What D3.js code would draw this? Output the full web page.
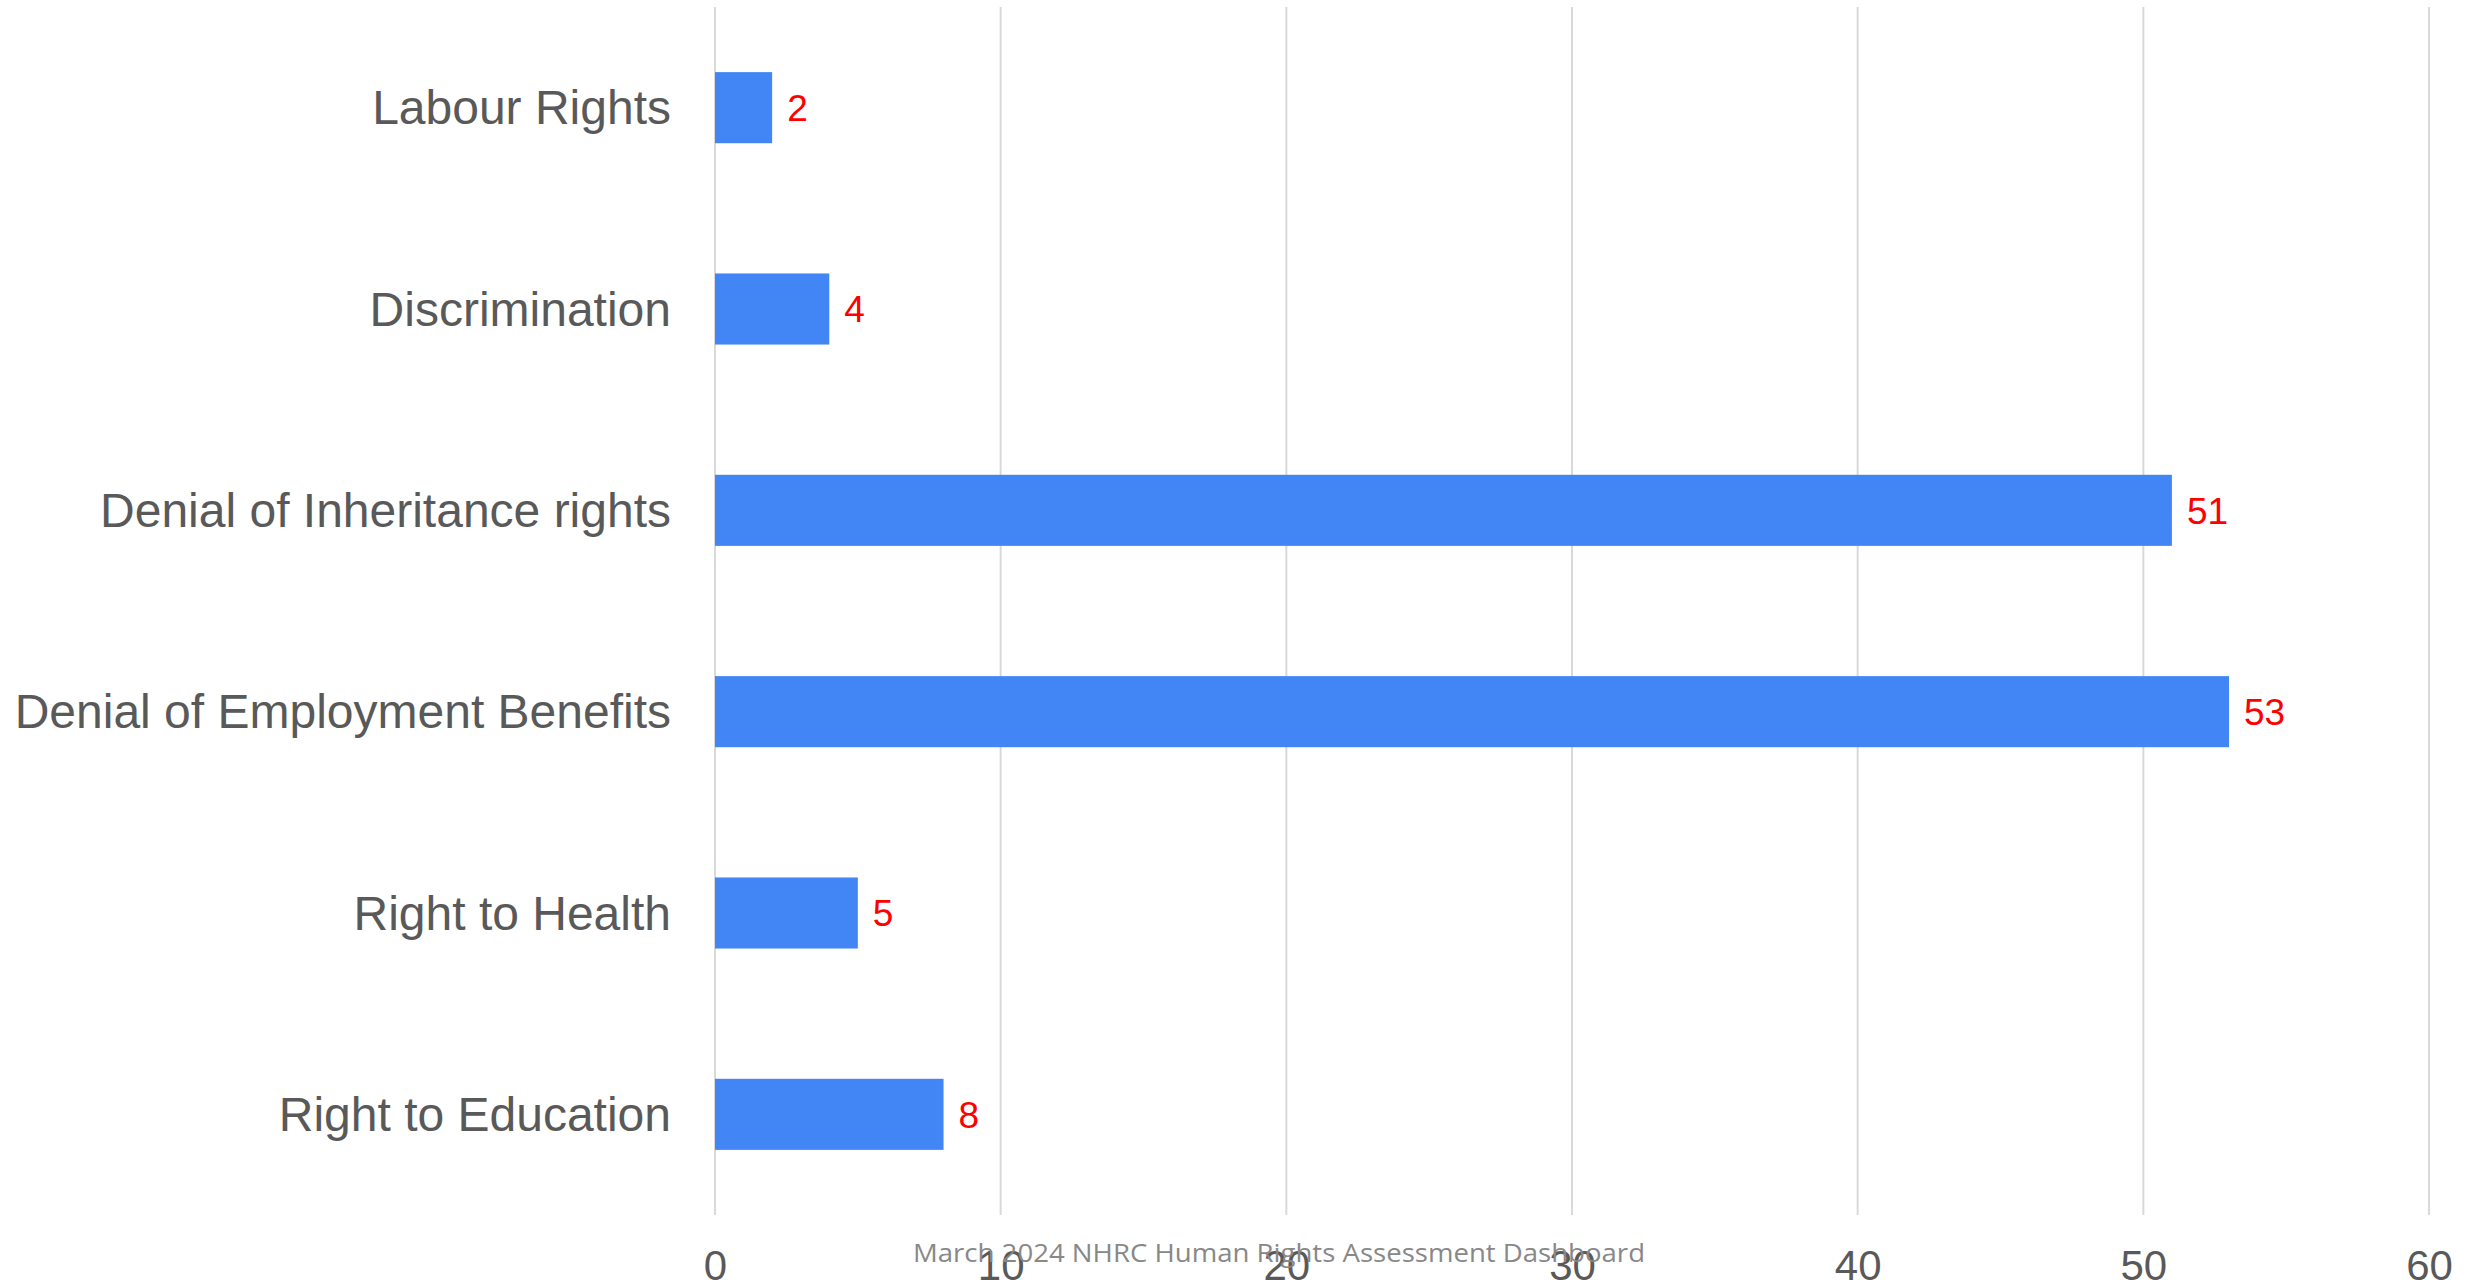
<!DOCTYPE html>
<html>
<head>
<meta charset="utf-8">
<script src="https://cdn.jsdelivr.net/npm/d3@7"></script>
<style>
  html, body { margin: 0; padding: 0; background: #ffffff; }
  svg { display: block; }
</style>
</head>
<body>
<script>
const categories = ["Labour Rights", "Discrimination", "Denial of Inheritance rights", "Denial of Employment Benefits", "Right to Health", "Right to Education"];
const values = [2, 4, 51, 53, 5, 8];
const tickValues = [0, 10, 20, 30, 40, 50, 60];
const footerText = "March 2024 NHRC Human Rights Assessment Dashboard";

const W = 2483, H = 1288;
const svg = d3.select("body").append("svg").attr("width", W).attr("height", H);

const x = d3.scaleLinear().domain([0, 60]).range([715, 2429]);
const y = d3.scaleBand().domain(categories).range([7, 1215]).paddingInner(0.647).paddingOuter(0.3235);

// gridlines
svg.append("g").selectAll("line").data(tickValues).join("line")
  .attr("x1", d => x(d)).attr("x2", d => x(d))
  .attr("y1", 7).attr("y2", 1215)
  .attr("stroke", "#d9d9d9").attr("stroke-width", 2);

// bars
svg.append("g").selectAll("rect").data(values).join("rect")
  .attr("x", x(0))
  .attr("y", (d, i) => y(categories[i]))
  .attr("width", d => x(d) - x(0))
  .attr("height", y.bandwidth())
  .attr("fill", "#4285f4");

// value labels
svg.append("g").selectAll("text").data(values).join("text")
  .attr("x", d => x(d) + 15)
  .attr("y", (d, i) => y(categories[i]) + y.bandwidth() / 2)
  .attr("dy", "0.36em")
  .attr("fill", "#ff0000")
  .attr("font-family", "Liberation Sans, Arial, sans-serif")
  .attr("font-size", 37)
  .text(d => d);

// category labels
svg.append("g").selectAll("text").data(categories).join("text")
  .attr("x", 671)
  .attr("y", d => y(d) + y.bandwidth() / 2)
  .attr("dy", "0.35em")
  .attr("text-anchor", "end")
  .attr("fill", "#595959")
  .attr("font-family", "Liberation Sans, Arial, sans-serif")
  .attr("font-size", 48)
  .text(d => d);

// x axis tick labels
const xAxis = d3.axisBottom(x).tickValues(tickValues).tickSize(0).tickPadding(0);
const gx = svg.append("g").attr("transform", "translate(0,1215)").call(xAxis);
gx.select(".domain").remove();
gx.selectAll("text")
  .attr("y", 65).attr("dy", 0)
  .attr("fill", "#595959")
  .attr("font-family", "Liberation Sans, Arial, sans-serif")
  .attr("font-size", 42);

// footer
svg.append("text")
  .attr("x", 913).attr("y", 1262)
  .attr("fill", "#888888")
  .attr("font-family", "Open Sans, sans-serif")
  .attr("font-size", 26)
  .attr("textLength", 732)
  .attr("lengthAdjust", "spacingAndGlyphs")
  .text(footerText);
</script>
</body>
</html>
